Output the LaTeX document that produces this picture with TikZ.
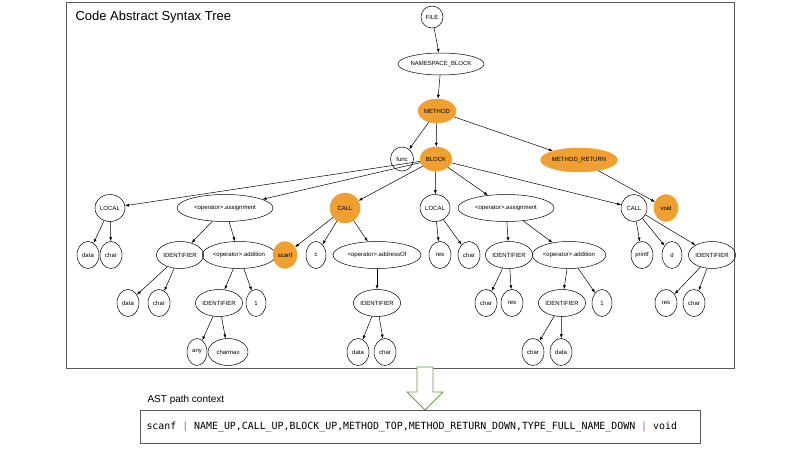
\documentclass[tikz,border=0pt]{standalone}
\usepackage{fontspec}
\setmainfont{Liberation Sans}
\newfontfamily\monof{DejaVu Sans Mono}
\usetikzlibrary{shapes.geometric,arrows.meta}
\definecolor{org}{HTML}{F0A030}
\definecolor{arrg}{HTML}{6A9A50}
\definecolor{pip}{HTML}{A050C0}
\begin{document}
\begin{tikzpicture}[x=1pt,y=-1pt,
  n/.style={ellipse,draw,line width=0.5pt,inner sep=0pt,minimum height=#1,font=\fontsize{6}{6}\selectfont},
  n/.default=24,
  w/.style={minimum width=#1},
  o/.style={fill=org,draw=org},
  e/.style={-{Latex[length=4pt,width=3pt]},line width=0.5pt}]
\useasboundingbox (0,0) rectangle (800,450);
\draw[line width=0.8pt,gray!70!black] (66,2) rectangle (734,368);
\node[anchor=west,font=\fontsize{13}{13}\selectfont] (title) at (72,17) {Code Abstract Syntax Tree};
% level 0-2
\node[n=22,w=22] (file) at (432,17) {FILE};
\node[n=22,w=76] (ns) at (441,64) {NAMESPACE\_BLOCK};
\node[n,w=38,o] (method) at (437,111) {METHOD};
\node[n,w=23] (func) at (402,159) {func};
\node[n,w=32,o] (block) at (436,159) {BLOCK};
\node[n,w=68,o] (mret) at (579,160) {METHOD\_RETURN};
% row 2
\node[n=27,w=30] (local1) at (110,208) {LOCAL};
\node[n=27,w=96] (asg1) at (225,208) {<operator>.assignment};
\node[n=30,w=30,o] (call1) at (345,208) {CALL};
\node[n=27,w=30] (local2) at (435,208) {LOCAL};
\node[n=27,w=96] (asg2) at (506,208) {<operator>.assignment};
\node[n=27,w=26] (call2) at (634,208) {CALL};
\node[n=27,w=24,o] (void) at (666,208) {void};
% row 3
\node[n=27,w=22] (d1) at (88,255) {data};
\node[n=27,w=22] (c1) at (111,255) {char};
\node[n=27,w=46] (id1) at (180,255) {IDENTIFIER};
\node[n=27,w=68] (add1) at (239,255) {<operator>.addition};
\node[n=27,w=24,o] (scanf) at (285,255) {scanf};
\node[n=27,w=20] (cc) at (316,255) {c};
\node[n=27,w=88] (addr) at (377,255) {<operator>.addressOf};
\node[n=27,w=22] (res1) at (440,255) {res};
\node[n=27,w=22] (c2) at (469,255) {char};
\node[n=27,w=46] (id2) at (509,255) {IDENTIFIER};
\node[n=27,w=68] (add2) at (569,255) {<operator>.addition};
\node[n=27,w=22] (printf) at (642,255) {printf};
\node[n=27,w=20] (dd) at (672,255) {d};
\node[n=27,w=46] (id3) at (712,255) {IDENTIFIER};
% row 4
\node[n=27,w=22] (d2) at (128,303) {data};
\node[n=27,w=22] (c3) at (159,303) {char};
\node[n=27,w=46] (id4) at (219,303) {IDENTIFIER};
\node[n=27,w=20] (one1) at (256,303) {1};
\node[n=27,w=46] (id5) at (377,303) {IDENTIFIER};
\node[n=27,w=22] (c4) at (486,303) {char};
\node[n=27,w=22] (res2) at (512,303) {res};
\node[n=27,w=46] (id6) at (562,303) {IDENTIFIER};
\node[n=27,w=20] (one2) at (602,303) {1};
\node[n=27,w=22] (res3) at (666,303) {res};
\node[n=27,w=22] (c5) at (694,303) {char};
% row 5
\node[n=27,w=20] (any) at (197,352) {any};
\node[n=27,w=40] (cmax) at (228,352) {charmax};
\node[n=27,w=22] (d3) at (358,352) {data};
\node[n=27,w=22] (c6) at (385,352) {char};
\node[n=27,w=22] (c7) at (533,352) {char};
\node[n=27,w=22] (d4) at (561,352) {data};
% edges
\foreach \a/\b in {file/ns,ns/method,method/func,method/block,method/mret,mret/void,
  block/local1,block/asg1,block/call1,block/local2,block/asg2,block/call2,
  local1/d1,local1/c1,asg1/id1,asg1/add1,id1/d2,id1/c3,add1/id4,add1/one1,id4/any,id4/cmax,
  call1/scanf,call1/cc,call1/addr,addr/id5,id5/d3,id5/c6,
  local2/res1,local2/c2,asg2/id2,asg2/add2,id2/c4,id2/res2,add2/id6,add2/one2,id6/c7,id6/d4,
  call2/printf,call2/dd,call2/id3,id3/res3,id3/c5}
  \draw[e] (\a) -- (\b);
% arrow
\draw[arrg,line width=0.8pt,fill=white] (417,367) -- (433,367) -- (433,392) -- (443,392) -- (425,410) -- (407,392) -- (417,392) -- cycle;
\node[anchor=west,font=\fontsize{10}{10}\selectfont] (ctxt) at (144,400) {AST path context};
\node[draw,line width=0.8pt,gray!70!black,minimum width=560,minimum height=33,anchor=north west] (box) at (140,410) {};
\node[anchor=west,font=\monof\fontsize{9.9}{10}\selectfont] (code) at (143,426.5) {scanf \textcolor{pip}{|} NAME\_UP,CALL\_UP,BLOCK\_UP,METHOD\_TOP,METHOD\_RETURN\_DOWN,TYPE\_FULL\_NAME\_DOWN \textcolor{pip}{|} void};
\end{tikzpicture}
\end{document}
